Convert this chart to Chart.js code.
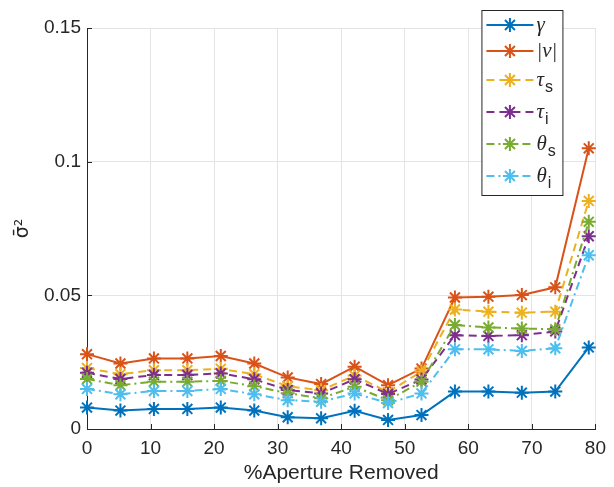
<!DOCTYPE html>
<html>
<head>
<meta charset="utf-8">
<script src="https://cdn.jsdelivr.net/npm/chart.js@4.4.1/dist/chart.umd.min.js"></script>
<style>
  html, body { margin: 0; padding: 0; background: #fff; }
  #wrap { width: 614px; height: 487px; }
</style>
</head>
<body>
<div id="wrap"><canvas id="c" width="614" height="487"></canvas></div>
<script>
// Percentage of the aperture removed for each run
const pctRemoved = [0, 5.26, 10.53, 15.79, 21.05, 26.32, 31.58, 36.84, 42.11, 47.37, 52.63, 57.89, 63.16, 68.42, 73.68, 78.95];

// Variance of each estimated parameter
const gammaVar  = [0.0080, 0.0069, 0.0075, 0.0075, 0.0080, 0.0069, 0.0044, 0.0040, 0.0068, 0.0034, 0.0052, 0.0140, 0.0140, 0.0136, 0.0140, 0.0305];
const nuVar     = [0.0280, 0.0245, 0.0264, 0.0264, 0.0273, 0.0245, 0.0193, 0.0168, 0.0233, 0.0164, 0.0226, 0.0492, 0.0495, 0.0501, 0.0530, 0.1050];
const tauSVar   = [0.0228, 0.0205, 0.0220, 0.0220, 0.0225, 0.0205, 0.0160, 0.0145, 0.0200, 0.0138, 0.0215, 0.0447, 0.0439, 0.0435, 0.0439, 0.0853];
const tauIVar   = [0.0210, 0.0187, 0.0202, 0.0202, 0.0208, 0.0186, 0.0146, 0.0133, 0.0186, 0.0131, 0.0185, 0.0351, 0.0348, 0.0351, 0.0365, 0.0721];
const thetaSVar = [0.0187, 0.0164, 0.0177, 0.0177, 0.0180, 0.0160, 0.0134, 0.0115, 0.0158, 0.0108, 0.0177, 0.0389, 0.0380, 0.0376, 0.0373, 0.0775];
const thetaIVar = [0.0150, 0.0130, 0.0142, 0.0142, 0.0150, 0.0130, 0.0108, 0.0102, 0.0133, 0.0097, 0.0133, 0.0298, 0.0298, 0.0292, 0.0302, 0.0650];

// Legend names (symbol + subscript)
const seriesSymbols = ['γ', '|ν|', 'τ', 'τ', 'θ', 'θ'];
const seriesSubs    = ['', '', 's', 'i', 's', 'i'];

// Axis ticks
const xTicks = [0, 10, 20, 30, 40, 50, 60, 70, 80];
const xTickLabels = ['0', '10', '20', '30', '40', '50', '60', '70', '80'];
const yTicks = [0, 0.05, 0.1, 0.15];
const yTickLabels = ['0', '0.05', '0.1', '0.15'];

const xTitle = '%Aperture Removed';
const yTitle = 'σ̄²';

// Styling
const seriesValues = [gammaVar, nuVar, tauSVar, tauIVar, thetaSVar, thetaIVar];
const colors = ['#0072BD', '#D95319', '#EDB120', '#7E2F8E', '#77AC30', '#4DBEEE'];
const dashes = [[], [], [8, 5], [8, 5], [8, 4, 2, 4], [8, 4, 2, 4]];
const axisColor = '#262626';
const gridColor = '#e4e4e4';
const sansFont = '"Liberation Sans", Arial, Helvetica, sans-serif';

const datasets = seriesValues.map((vals, i) => ({
  label: seriesSymbols[i] + seriesSubs[i],
  data: pctRemoved.map((x, k) => ({ x: x, y: vals[k] })),
  borderColor: colors[i],
  backgroundColor: colors[i],
  borderWidth: 2,
  borderDash: dashes[i],
  pointStyle: 'star',
  pointRadius: 7,
  pointBorderWidth: 2,
  pointBorderColor: colors[i],
  pointBackgroundColor: colors[i],
  tension: 0,
  fill: false,
  clip: false,
  order: seriesValues.length - i
}));

function drawStar(ctx, x, y, r) {
  ctx.beginPath();
  for (let k = 0; k < 4; k++) {
    const a = k * Math.PI / 4;
    const dx = Math.cos(a) * r, dy = Math.sin(a) * r;
    ctx.moveTo(x - dx, y - dy);
    ctx.lineTo(x + dx, y + dy);
  }
  ctx.stroke();
}

// Inward-facing tick marks on the left and bottom axes
const innerTicks = {
  id: 'innerTicks',
  afterDraw(chart) {
    const { ctx, chartArea } = chart;
    const xs = chart.scales.x, ys = chart.scales.y;
    const len = 5;
    ctx.save();
    ctx.strokeStyle = axisColor;
    ctx.lineWidth = 1;
    ctx.beginPath();
    xTicks.forEach(v => {
      const px = Math.round(xs.getPixelForValue(v)) + 0.5;
      ctx.moveTo(px, chartArea.bottom);
      ctx.lineTo(px, chartArea.bottom - len);
    });
    yTicks.forEach(v => {
      const py = Math.round(ys.getPixelForValue(v)) + 0.5;
      ctx.moveTo(chartArea.left, py);
      ctx.lineTo(chartArea.left + len, py);
    });
    ctx.stroke();
    ctx.restore();
  }
};

// Boxed legend in the upper-right corner of the plot
const keyBox = {
  id: 'keyBox',
  afterDraw(chart) {
    const { ctx, chartArea } = chart;
    const left = chartArea.right - 114, top = 10, w = 81, h = 185;
    ctx.save();
    ctx.fillStyle = '#fff';
    ctx.fillRect(left, top, w, h);
    ctx.strokeStyle = axisColor;
    ctx.lineWidth = 1;
    ctx.strokeRect(left + 0.5, top + 0.5, w, h);
    let y = top + 15;
    seriesSymbols.forEach((sym, i) => {
      if (i > 0) {
        // rows with a subscript need a little more room
        y += (seriesSubs[i - 1] ? 3 : 0) + (seriesSubs[i] ? 29 : 26);
      }
      const x0 = left + 5, x1 = left + 52, xm = (x0 + x1) / 2;
      ctx.strokeStyle = colors[i];
      ctx.lineWidth = 2;
      ctx.setLineDash(dashes[i]);
      ctx.beginPath();
      ctx.moveTo(x0, y);
      ctx.lineTo(x1, y);
      ctx.stroke();
      ctx.setLineDash([]);
      drawStar(ctx, xm, y, 7);
      ctx.fillStyle = axisColor;
      ctx.textBaseline = 'middle';
      ctx.textAlign = 'left';
      ctx.font = 'italic 21px "Liberation Serif", "Times New Roman", serif';
      const tx = x1 + 3;
      ctx.fillText(sym, tx, y);
      if (seriesSubs[i]) {
        const sw = ctx.measureText(sym).width;
        ctx.font = '16px ' + sansFont;
        ctx.fillText(seriesSubs[i], tx + sw + 1, y + 8);
      }
    });
    ctx.restore();
  }
};

new Chart(document.getElementById('c'), {
  type: 'line',
  data: { datasets: datasets },
  options: {
    responsive: false,
    animation: false,
    events: [],
    layout: { padding: { top: 28, right: 9, bottom: 0, left: 0 }, autoPadding: false },
    plugins: { legend: { display: false }, tooltip: { enabled: false } },
    scales: {
      x: {
        type: 'linear',
        min: 0,
        max: 80,
        afterBuildTicks: s => { s.ticks = xTicks.map(v => ({ value: v })); },
        afterFit: s => { s.height = 58; },
        ticks: {
          callback: (v, i) => xTickLabels[i],
          color: axisColor,
          font: { family: sansFont, size: 19 },
          padding: 8,
          maxRotation: 0
        },
        grid: { color: gridColor, drawTicks: false, lineWidth: 1 },
        border: { color: axisColor, width: 1 },
        title: {
          display: true,
          text: xTitle,
          color: axisColor,
          font: { family: sansFont, size: 21 },
          padding: { top: 0, bottom: 1 }
        }
      },
      y: {
        type: 'linear',
        min: 0,
        max: 0.15,
        afterBuildTicks: s => { s.ticks = yTicks.map(v => ({ value: v })); },
        afterFit: s => { s.width = 87; },
        ticks: {
          callback: (v, i) => yTickLabels[i],
          color: axisColor,
          font: { family: sansFont, size: 19 },
          padding: 6
        },
        grid: { color: gridColor, drawTicks: false, lineWidth: 1 },
        border: { color: axisColor, width: 1 },
        title: {
          display: true,
          text: yTitle,
          color: axisColor,
          font: { family: '"DejaVu Sans", sans-serif', size: 19 },
          padding: { top: 12, bottom: 0 }
        }
      }
    }
  },
  plugins: [innerTicks, keyBox]
});
</script>
</body>
</html>
